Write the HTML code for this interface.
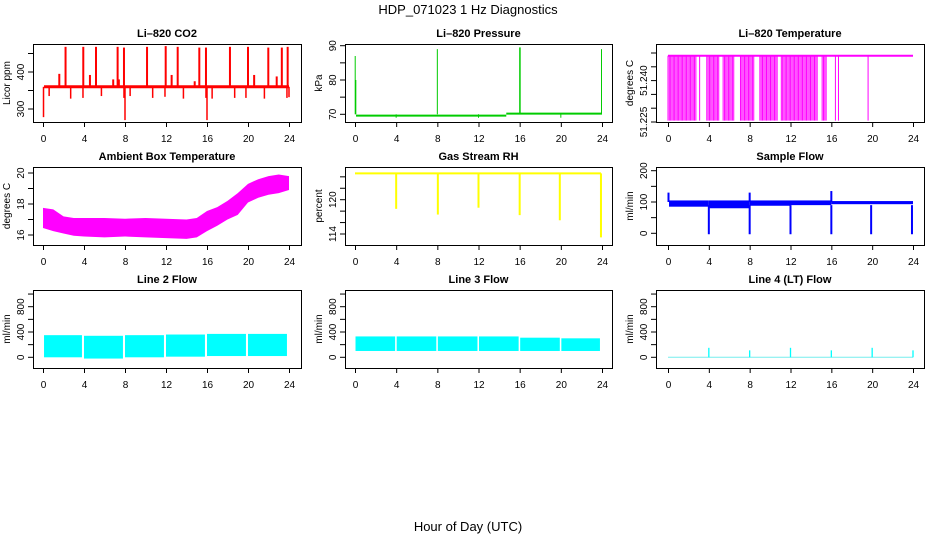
<!DOCTYPE html>
<html><head><meta charset="utf-8">
<style>
html,body{margin:0;padding:0;background:#fff;}
svg{display:block;font-family:"Liberation Sans",sans-serif;}
</style></head>
<body>
<svg id="chart" width="936" height="540" viewBox="0 0 936 540" xmlns="http://www.w3.org/2000/svg">
<text x="468" y="14" text-anchor="middle" font-size="13">HDP_071023  1 Hz Diagnostics</text>
<text x="468" y="531" text-anchor="middle" font-size="13">Hour of Day (UTC)</text>
</svg>
<script>
// ---------- data ----------
const xTicks = [0,4,8,12,16,20,24];
// CO2
const co2Base = 360;
const co2SpikeHours = [2.2,3.93,5.17,7.28,7.9,10.15,11.97,13.14,15.25,15.9,18.24,20.0,21.98,23.3,23.87,1.59,4.58,12.55,20.6,22.8,6.85,7.4,14.8];
const co2SpikeVals  = [468,468,468,468,466,468,470,468,466,466,468,468,466,466,468,395,392,392,392,388,380,380,375];
const co2DipHours = [0.05,0.6,2.7,3.9,5.7,7.9,8.0,8.5,10.7,11.9,13.7,15.9,16.0,16.5,18.7,19.8,21.6,23.8,24.0];
const co2DipVals  = [278,335,328,330,335,330,270,335,330,333,328,330,270,328,330,330,328,330,332];
// Pressure
const presBaseSegs = [[0.1,14.7,69.6],[14.7,24,70.2]];
const presSpikeHours = [0.02,0.08,8.0,16.0,16.05,23.95];
const presSpikeVals  = [87,80,89,89.5,89.5,89];
const presDipHours = [4,12,20];
const presDipVals = [69,69,69];
// Li-820 temperature
const tempTop = 51.249;
const tempLow = 51.2255;
const tempDropSpans = [[0,2.8],[3.1,3.12],[3.8,5.0],[5.4,6.5],[7.1,8.5],[9.0,10.8],[11.1,14.7],[15.1,15.6],[16.4,16.45],[16.7,16.75],[19.6,19.65]];
// Ambient box temperature
const ambHours = [0,1,2,3,4,6,8,10,12,14,15,16,17,18,19,20,21,22,23,24];
const ambHigh  = [17.75,17.65,17.2,17.1,17.1,17.1,17.05,17.1,17.05,17.0,17.1,17.55,17.8,18.2,18.7,19.3,19.6,19.8,19.9,19.8];
const ambLow   = [16.45,16.25,16.1,15.95,15.9,15.85,15.9,15.85,15.8,15.75,15.85,16.25,16.6,17.0,17.3,18.1,18.4,18.6,18.7,18.9];
// Gas stream RH
const rhBase = 124.6;
const rhDropHours = [4.0,8.05,12.0,16.0,19.9,23.9];
const rhDropVals  = [118.4,117.4,118.6,117.3,116.4,113.4];
// Sample flow
const sfSegs = [[0.1,4,85,105],[4,8,80,105],[8,12,88,105],[12,16,90,105],[16,24,93,103]];
const sfDropHours = [4,8,12,16,19.9,23.9];
const sfSpikeHours = [0.05,8.0,16.0];
const sfSpikeVals = [130,130,135];
// Line 2 flow
const l2Segs = [[0.1,3.8,0,350],[4,7.8,-20,340],[8,11.8,0,350],[12,15.8,10,360],[16,19.8,20,370],[20,23.8,20,370]];
// Line 3 flow
const l3Segs = [[0.05,3.9,100,330],[4.05,7.9,100,330],[8.05,11.9,100,330],[12.05,15.9,100,330],[16.05,19.9,100,310],[20.05,23.8,100,300]];
// Line 4 flow
const l4Base = 0;
const l4SpikeHours = [4,8,12,16,20,24];
const l4SpikeVals = [150,110,150,110,150,110];

// ---------- layout ----------
const NS = "http://www.w3.org/2000/svg";
const svg = document.getElementById('chart');
const cols = [{l:33,r:301,x0:43,x24:289},{l:345,r:612,x0:355,x24:602},{l:656,r:924,x0:668,x24:913}];
const rows = [{t:44,b:122},{t:167,b:245},{t:290,b:368}];

function el(tag, attrs, parent){
  const e = document.createElementNS(NS, tag);
  for (const k in attrs) e.setAttribute(k, attrs[k]);
  (parent||svg).appendChild(e);
  return e;
}
function makeX(c){ return h => c.x0 + (c.x24-c.x0)*h/24; }
function makeY(v1,y1,v2,y2){ return v => y1 + (v-v1)*(y2-y1)/(v2-v1); }

function panel(ci, ri, name, title, ylab, ticks, labels, yfn){
  const c = cols[ci], r = rows[ri];
  const g = el('g', {});
  
  
  const t = el('text', {x:(c.l+c.r)/2, y:r.t-7, 'text-anchor':'middle', 'font-size':11, 'font-weight':'bold'}, g);
  t.textContent = title;
  
  
  const x = makeX(c);
  const xa = el('g', {stroke:'#000','stroke-width':1}, g);
  
  
  el('line', {x1:x(0), x2:x(24), y1:r.b+0.5, y2:r.b+0.5}, xa);
  xTicks.forEach(h => {
    el('line', {x1:x(h)+0.5, x2:x(h)+0.5, y1:r.b, y2:r.b+5}, xa);
    const tl = el('text', {x:x(h)+0.5, y:r.b+20, 'text-anchor':'middle', 'font-size':10, stroke:'none'}, g);
    tl.textContent = h;
    
    
  });
  const ya = el('g', {stroke:'#000','stroke-width':1}, g);
  
  
  el('line', {x1:c.l+0.5, x2:c.l+0.5, y1:yfn(ticks[0]), y2:yfn(ticks[ticks.length-1])}, ya);
  ticks.forEach((v,i) => {
    el('line', {x1:c.l-5, x2:c.l, y1:yfn(v), y2:yfn(v)}, ya);
    if (labels[i] !== '') {
      const yl = el('text', {x:0, y:0, 'text-anchor':'middle', 'font-size':10,
        transform:`translate(${c.l-9},${yfn(v)}) rotate(-90)`}, g);
      yl.textContent = labels[i];
      
      
    }
  });
  const at = el('text', {x:0,y:0,'text-anchor':'middle','font-size':10,
    transform:`translate(${c.l-23},${(r.t+r.b)/2}) rotate(-90)`}, g);
  at.textContent = ylab;
  
  
  const dg = el('g', {}, g);
  
  
  return {g, dg, x, y:yfn, c, r};
}
function box(p){
  const b = el('rect', {x:p.c.l+0.5, y:p.r.t+0.5, width:p.c.r-p.c.l, height:p.r.b-p.r.t, fill:'none', stroke:'#000'}, p.g);
  
  
}
function vline(p, h, v1, v2, col, w){
  const l = el('line', {x1:p.x(h), x2:p.x(h), y1:p.y(v1), y2:p.y(v2), stroke:col, 'stroke-width':w||1.5}, p.dg);
  
  
}
function hline(p, h1, h2, v, col, w){
  const l = el('line', {x1:p.x(h1), x2:p.x(h2), y1:p.y(v), y2:p.y(v), stroke:col, 'stroke-width':w||2}, p.dg);
  
  
}
function band(p, h1, h2, lo, hi, col){
  const x1 = p.x(h1), x2 = p.x(h2), y1 = p.y(hi), y2 = p.y(lo);
  const b = el('rect', {x:x1, y:y1, width:x2-x1, height:y2-y1, fill:col}, p.dg);
  
  
}

// CO2
let p = panel(0,0,'co2','Li\u2013820 CO2','Licor ppm',[300,350,400,450],['300','','400',''], makeY(300,109,400,72));
hline(p, 0.1, 24, co2Base, '#f00', 3);
co2SpikeHours.forEach((h,i)=> vline(p, h, co2Base, co2SpikeVals[i], '#f00', 2));
co2DipHours.forEach((h,i)=> vline(p, h, co2Base, co2DipVals[i], '#f00', 1.5));
box(p);

// Pressure
p = panel(1,0,'pressure','Li\u2013820 Pressure','kPa',[70,75,80,85,90],['70','','80','','90'], makeY(70,114.3,90,45.7));
presBaseSegs.forEach(s => hline(p, s[0], s[1], s[2], '#0c0', 2));
presSpikeHours.forEach((h,i)=> vline(p, h, 70, presSpikeVals[i], '#0c0', 1));
presDipHours.forEach((h,i)=> vline(p, h, 70, presDipVals[i], '#0c0', 1));
box(p);

// Li-820 temperature
p = panel(2,0,'li820-temp','Li\u2013820 Temperature','degrees C',[51.225,51.23,51.235,51.24,51.245,51.25],['51.225','','','51.240','',''], makeY(51.225,122,51.25,53));
hline(p, 0, 24, tempTop, '#f0f', 2);
tempDropSpans.forEach(s => {
  for (let h = s[0]; h <= s[1]+1e-9; h += 0.13) vline(p, h, tempTop, tempLow, '#f0f', 1);
});
box(p);

// Ambient box temp
p = panel(0,1,'ambient-temp','Ambient Box Temperature','degrees C',[16,17,18,19,20],['16','','18','','20'], makeY(16,235,20,173));
{
  let pts = ambHours.map((h,i)=> `${p.x(h)},${p.y(ambHigh[i])}`);
  for (let i = ambHours.length-1; i>=0; i--) pts.push(`${p.x(ambHours[i])},${p.y(ambLow[i])}`);
  const poly = el('polygon', {points:pts.join(' '), fill:'#f0f'}, p.dg);
  
  
}
box(p);

// Gas stream RH
p = panel(1,1,'rh','Gas Stream RH','percent',[114,116,118,120,122,124],['114','','','120','',''], makeY(114,234,120,199.7));
hline(p, 0, 23.9, rhBase, '#ff0', 2);
rhDropHours.forEach((h,i)=> vline(p, h, rhBase, rhDropVals[i], '#ff0', 2));
box(p);

// Sample flow
p = panel(2,1,'sample-flow','Sample Flow','ml/min',[0,50,100,150,200],['0','','100','','200'], makeY(0,233.3,200,170.7));
sfSegs.forEach(s => band(p, s[0], s[1], s[2], s[3], '#00f'));
sfDropHours.forEach(h => vline(p, h, 90, -3, '#00f', 2));
sfSpikeHours.forEach((h,i)=> vline(p, h, 100, sfSpikeVals[i], '#00f', 2));
box(p);

// Line 2 flow
const rowY = makeY(0,357.3,800,306.7);
const flowTicks = [0,200,400,600,800,1000], flowLabels = ['0','','400','','800',''];
p = panel(0,2,'line2-flow','Line 2 Flow','ml/min',flowTicks,flowLabels,rowY);
l2Segs.forEach(s => band(p, s[0], s[1], s[2], s[3], '#0ff'));
box(p);

// Line 3 flow
p = panel(1,2,'line3-flow','Line 3 Flow','ml/min',flowTicks,flowLabels,rowY);
l3Segs.forEach(s => band(p, s[0], s[1], s[2], s[3], '#0ff'));
box(p);

// Line 4 flow
p = panel(2,2,'line4-flow','Line 4 (LT) Flow','ml/min',flowTicks,flowLabels,rowY);
hline(p, 0, 24, l4Base, '#7ee', 1);
l4SpikeHours.forEach((h,i)=> vline(p, h, l4Base, l4SpikeVals[i], '#0ff', 1.3));
box(p);
</script>
</body></html>
